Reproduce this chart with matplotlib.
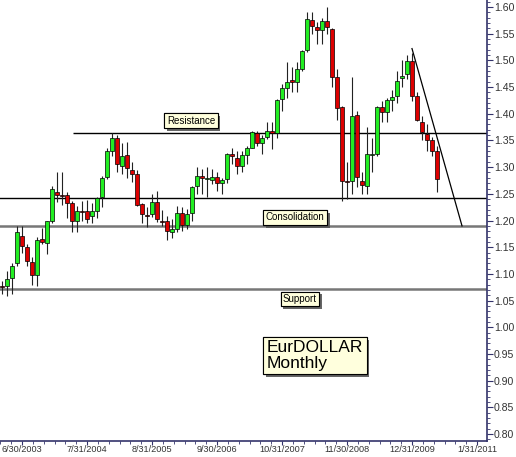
import matplotlib
matplotlib.use("Agg")
import matplotlib.pyplot as plt
import matplotlib.patheffects as pe
from matplotlib.ticker import MultipleLocator, FixedLocator

plt.rcParams['font.family'] = ['Liberation Sans', 'DejaVu Sans']

# month index, 0 = June 2003
months = list(range(-4, 84))
opens = [1.077, 1.077, 1.092, 1.120, 1.171, 1.150, 1.122, 1.098, 1.165, 1.158,
         1.199, 1.253, 1.248, 1.247, 1.232, 1.199, 1.218, 1.217, 1.208, 1.217,
         1.244, 1.281, 1.330, 1.354, 1.303, 1.322, 1.294, 1.287, 1.231, 1.211,
         1.212, 1.234, 1.200, 1.199, 1.178, 1.184, 1.214, 1.191, 1.214, 1.264,
         1.283, 1.278, 1.275, 1.281, 1.270, 1.277, 1.324, 1.318, 1.303, 1.322,
         1.336, 1.363, 1.346, 1.357, 1.367, 1.364, 1.428, 1.449, 1.464, 1.460,
         1.484, 1.520, 1.576, 1.562, 1.557, 1.574, 1.559, 1.469, 1.412, 1.274,
         1.274, 1.397, 1.274, 1.264, 1.323, 1.324, 1.413, 1.404, 1.426, 1.434,
         1.466, 1.475, 1.499, 1.434, 1.385, 1.362, 1.350, 1.331]
highs = [1.087, 1.105, 1.120, 1.190, 1.190, 1.156, 1.132, 1.169, 1.186, 1.200,
         1.264, 1.290, 1.290, 1.253, 1.236, 1.227, 1.236, 1.238, 1.233, 1.245,
         1.283, 1.335, 1.363, 1.360, 1.346, 1.348, 1.310, 1.295, 1.233, 1.225,
         1.250, 1.255, 1.219, 1.208, 1.203, 1.227, 1.225, 1.222, 1.265, 1.300,
         1.297, 1.300, 1.296, 1.290, 1.280, 1.327, 1.335, 1.330, 1.330, 1.340,
         1.368, 1.368, 1.361, 1.385, 1.384, 1.427, 1.455, 1.497, 1.487, 1.497,
         1.520, 1.590, 1.590, 1.572, 1.580, 1.600, 1.560, 1.484, 1.415, 1.310,
         1.469, 1.405, 1.290, 1.375, 1.355, 1.415, 1.423, 1.430, 1.445, 1.480,
         1.500, 1.510, 1.514, 1.440, 1.395, 1.380, 1.357, 1.340]
lows = [1.063, 1.058, 1.062, 1.115, 1.140, 1.114, 1.080, 1.078, 1.156, 1.138,
        1.195, 1.234, 1.230, 1.205, 1.178, 1.178, 1.200, 1.196, 1.196, 1.205,
        1.225, 1.278, 1.320, 1.290, 1.287, 1.280, 1.273, 1.228, 1.195, 1.187,
        1.207, 1.197, 1.190, 1.163, 1.168, 1.178, 1.180, 1.185, 1.200, 1.250,
        1.250, 1.245, 1.268, 1.255, 1.250, 1.270, 1.305, 1.287, 1.290, 1.305,
        1.335, 1.340, 1.325, 1.352, 1.334, 1.355, 1.405, 1.430, 1.440, 1.440,
        1.480, 1.515, 1.550, 1.530, 1.530, 1.550, 1.450, 1.389, 1.236, 1.240,
        1.250, 1.263, 1.250, 1.250, 1.290, 1.320, 1.385, 1.385, 1.405, 1.420,
        1.450, 1.465, 1.424, 1.386, 1.350, 1.330, 1.320, 1.253]
closes = [1.076, 1.091, 1.115, 1.178, 1.152, 1.124, 1.098, 1.163, 1.160, 1.199,
          1.259, 1.247, 1.246, 1.232, 1.199, 1.217, 1.216, 1.203, 1.217, 1.242,
          1.279, 1.330, 1.354, 1.305, 1.320, 1.298, 1.287, 1.229, 1.212, 1.209,
          1.234, 1.203, 1.198, 1.180, 1.184, 1.214, 1.191, 1.212, 1.262, 1.283,
          1.279, 1.278, 1.281, 1.270, 1.275, 1.324, 1.320, 1.303, 1.322, 1.335,
          1.365, 1.346, 1.354, 1.367, 1.364, 1.425, 1.449, 1.460, 1.460, 1.484,
          1.518, 1.578, 1.565, 1.557, 1.574, 1.563, 1.469, 1.410, 1.274, 1.272,
          1.395, 1.281, 1.266, 1.324, 1.325, 1.413, 1.404, 1.425, 1.432, 1.462,
          1.471, 1.499, 1.434, 1.389, 1.365, 1.350, 1.331, 1.277]

tick_months = [0, 13, 26, 39, 52, 65, 78, 91]
tick_labels = ["6/30/2003", "7/31/2004", "8/31/2005", "9/30/2006",
               "10/31/2007", "11/30/2008", "12/31/2009", "1/31/2011"]

resistance = 1.363
resistance_from = 10.2
consolidation_top = 1.242
consolidation_bottom = 1.19
support = 1.072
trend_x = [78, 88]
trend_y = [1.522, 1.19]

fig = plt.figure(figsize=(5.16, 4.57), dpi=100)
ax = fig.add_axes([0, 0.036, 0.9438, 0.964])
xmax = 93
ax.set_xlim(-4.4, xmax)
ax.set_ylim(0.788, 1.613)

# candles
colors = ['#22ee22' if c >= o else '#dd0000' for o, c in zip(opens, closes)]
bottoms = [min(o, c) for o, c in zip(opens, closes)]
heights = [max(abs(c - o), 0.002) for o, c in zip(opens, closes)]
ax.vlines(months, lows, highs, color='#222222', linewidth=0.8, zorder=2)
ax.bar(months, heights, bottom=bottoms, width=0.7, color=colors,
       edgecolor='black', linewidth=0.5, zorder=3)

# levels
ax.hlines(resistance, resistance_from, xmax, color='black', linewidth=1, zorder=1)
ax.axhline(consolidation_top, color='black', linewidth=1, zorder=1)
ax.axhline(consolidation_bottom, color='#777777', linewidth=1.8, zorder=1)
ax.axhline(support, color='#777777', linewidth=1.8, zorder=1)
ax.plot(trend_x, trend_y, color='black', linewidth=0.9, zorder=4)


def note(x, y, s, size, pad=0.25):
    t = ax.text(x, y, s, fontsize=size, ha='center', va='center',
                multialignment='left', linespacing=1.05, zorder=6,
                bbox=dict(boxstyle='square,pad=%s' % pad, fc='#ffffdd',
                          ec='black', lw=0.8))
    t.get_bbox_patch().set_path_effects([
        pe.withSimplePatchShadow(offset=(2, -2), shadow_rgbFace='#555555', alpha=0.9),
        pe.Normal()])


note(33.8, 1.387, "Resistance", 7)
note(54.6, 1.206, "Consolidation", 7)
note(55.6, 1.053, "Support", 7)
note(58.6, 0.947, "EurDOLLAR\nMonthly", 12.5, pad=0.2)

# axes styling
navy = '#33336b'
for side in ['left', 'top']:
    ax.spines[side].set_visible(False)
for side in ['right', 'bottom']:
    ax.spines[side].set_color(navy)
    ax.spines[side].set_linewidth(1.2)

ax.yaxis.tick_right()
ax.yaxis.set_major_locator(MultipleLocator(0.05))
ax.yaxis.set_minor_locator(MultipleLocator(0.01))
ax.yaxis.set_major_formatter(plt.FuncFormatter(lambda v, p: "%.2f" % v))
ax.tick_params(axis='y', which='major', length=4, width=0.8, color=navy,
               labelsize=7.6, labelcolor='#333333', pad=1)
ax.tick_params(axis='y', which='minor', length=2, width=0.6, color=navy)

ax.xaxis.set_major_locator(FixedLocator(tick_months))
ax.xaxis.set_minor_locator(MultipleLocator(13 / 6))
ax.set_xticklabels(tick_labels)
ax.tick_params(axis='x', which='major', length=3, width=0.8, color=navy,
               labelsize=6.6, labelcolor='#333333', pad=0.5)
ax.tick_params(axis='x', which='minor', length=2, width=0.6, color=navy)

fig.savefig("out.png", dpi=100)
